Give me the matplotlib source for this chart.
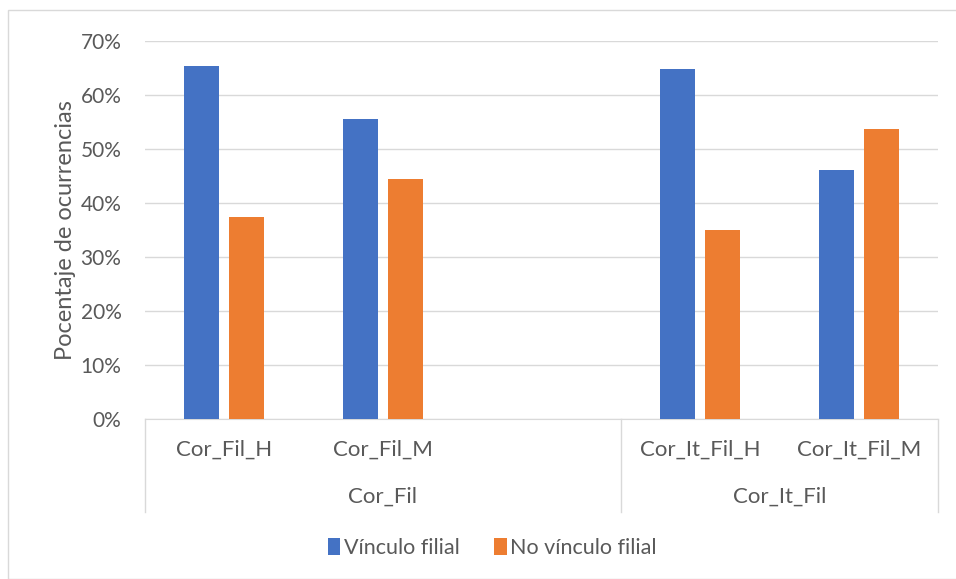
import numpy as np
import matplotlib
matplotlib.use('Agg')
import matplotlib.pyplot as plt
from matplotlib.patches import Rectangle

# data
categories = ['Cor_Fil_H', 'Cor_Fil_M', '', 'Cor_It_Fil_H', 'Cor_It_Fil_M']
groups = ['Cor_Fil', 'Cor_It_Fil']
group_centers = [1.0, 3.5]
vinculo = [65.4, 55.5, np.nan, 64.9, 46.1]
no_vinculo = [37.4, 44.4, np.nan, 35.0, 53.7]
series_names = ['Vínculo filial', 'No vínculo filial']
y_ticks = [0, 10, 20, 30, 40, 50, 60, 70]

text_color = '#595959'
grid_color = '#D9D9D9'
plt.rcParams['font.family'] = ['Lato', 'DejaVu Sans']

fig = plt.figure(figsize=(9.56, 5.79), dpi=100)
W, H = 956, 579
ax = fig.add_axes([145 / W, 1 - 419 / H, (938 - 145) / W, (419 - 41) / H])

# chart border
fig.patches.append(Rectangle((8 / W, 0), 1, 1 - 10 / H, transform=fig.transFigure,
                             fill=False, edgecolor=grid_color, linewidth=1))

x = np.arange(len(categories))
bw = 0.22
off = 0.142
ax.bar(x - off, vinculo, bw, color='#4472C4', label=series_names[0], zorder=3)
ax.bar(x + off, no_vinculo, bw, color='#ED7D31', label=series_names[1], zorder=3)

ax.set_xlim(-0.5, len(categories) - 0.5)
ax.set_ylim(0, 70)
ax.set_yticks(y_ticks)
ax.set_yticklabels([f'{t}%' for t in y_ticks])
ax.yaxis.grid(True, color=grid_color, linewidth=1, zorder=0)
ax.tick_params(axis='y', length=0, pad=17, labelsize=15, labelcolor=text_color)
ax.set_xticks([])
for s in ['left', 'right', 'top']:
    ax.spines[s].set_visible(False)
ax.spines['bottom'].set_color(grid_color)

ax.set_ylabel('Pocentaje de ocurrencias', fontsize=17, color=text_color, labelpad=3)

# multi-level category labels
trans = ax.get_xaxis_transform()
for xi, name in zip(x, categories):
    ax.text(xi, -0.082, name, transform=trans, ha='center', va='center',
            fontsize=16, color=text_color)
for name, xc in zip(groups, group_centers):
    ax.text(xc, -0.206, name, transform=trans, ha='center', va='center',
            fontsize=16, color=text_color)
for sep in [-0.5, 2.5, 4.5]:
    ax.plot([sep, sep], [0, -0.246], transform=trans, color=grid_color,
            linewidth=1, clip_on=False)

fig.legend(loc='center', bbox_to_anchor=(492 / W, 1 - 548 / H), ncol=2, frameon=False,
           handlelength=0.6, handleheight=0.8, handletextpad=0.15, columnspacing=1.6,
           fontsize=15.5, labelcolor=text_color)

fig.savefig('out.png', dpi=100)
